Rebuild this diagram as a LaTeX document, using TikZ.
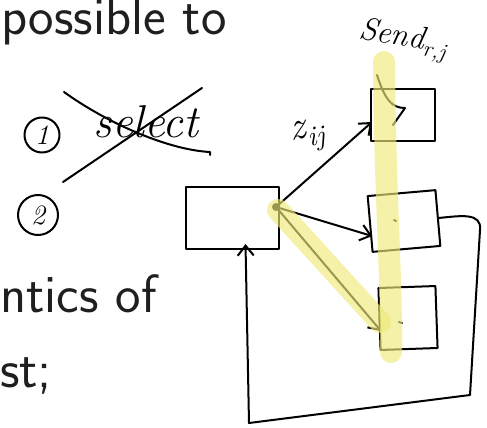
\documentclass[tikz,border=0pt]{standalone}
\usetikzlibrary{arrows.meta,calc}
\definecolor{hlyellow}{HTML}{EFE97A}
\begin{document}
\begin{tikzpicture}[x=1pt,y=-1pt,
  pen/.style={line width=2pt, line cap=round, line join=round},
  box/.style={pen, draw, rectangle, inner sep=0pt},
  hl/.style={line width=22pt, line cap=round, draw=hlyellow, draw opacity=0.65},
  tip/.style={-{Straight Barb[length=10pt,width=16pt,line width=2pt]}},
  slide/.style={font=\sffamily\fontsize{54}{60}\selectfont, text=black!88, anchor=base west, inner sep=0pt},
  hand/.style={inner sep=0pt},
  num/.style={pen, draw, circle, inner sep=0pt, font=\itshape\fontsize{28}{28}\selectfont}
]
\useasboundingbox (0,0) rectangle (487,428);

% slide text
\node[slide] (t1) at (1,35) {possible to};
\node[slide] (t2) at (0,312) {ntics of};
\node[slide] (t3) at (0,387) {st;};

% circled numbers
\node[num, minimum size=35pt] (c1) at (42,135) {1};
\node[num, minimum size=40pt] (c2) at (38,215) {2};

% crossed-out word
\node[hand, font=\itshape\fontsize{46}{46}\selectfont] (sel) at (146,122) {select};
\draw[pen] (64,92) .. controls (110,125) and (170,150) .. (210,152) -- (210,155);
\draw[pen] (63,182) -- (202,88);

% boxes
\node[box, minimum width=93pt, minimum height=62pt] (b0) at (232.5,218) {};
\node[box, minimum width=64pt, minimum height=52pt] (b1) at (403,115) {};
\node[box, minimum width=68pt, minimum height=56pt, rotate=5] (b2) at (404,221) {};
\node[box, minimum width=57pt, minimum height=62pt, rotate=2] (b3) at (408,318) {};
\node[circle, fill, inner sep=0pt, minimum size=8pt] (d) at (276,207) {};

% labels
\node[hand, font=\itshape\fontsize{40}{40}\selectfont, rotate=10] (z) at (308,136) {z\textsubscript{ij}};
\node[hand, font=\itshape\fontsize{32}{32}\selectfont, rotate=-10] (s) at (403,40) {Send\textsubscript{r,j}};

% arrows
\draw[pen, tip] (d.center) -- ($(b1.west)+(2,7)$);
\draw[pen, tip] (d.center) -- ($(b2.west)+(3,12)$);
\draw[pen, tip] (d.center) -- ($(b3.west)+(2.5,12)$);
\draw[pen] (377,75) .. controls (385,100) and (392,108) .. (405,108) -- (393,125);
\draw[pen, tip] (b2.east) .. controls (460,216) and (482,212) .. (480,230)
  -- (470,395) -- (249,423) -- ($(b0.south)+(13,-6)$);

% small pen marks
\draw[pen] (394,220) -- (396,221);
\draw[pen] (399,322) -- (402,323);

% highlighter
\draw[hl] (384,62) .. controls (385,200) and (392,280) .. (391,352);
\draw[hl] (278,210) -- (380,322);
\end{tikzpicture}
\end{document}
